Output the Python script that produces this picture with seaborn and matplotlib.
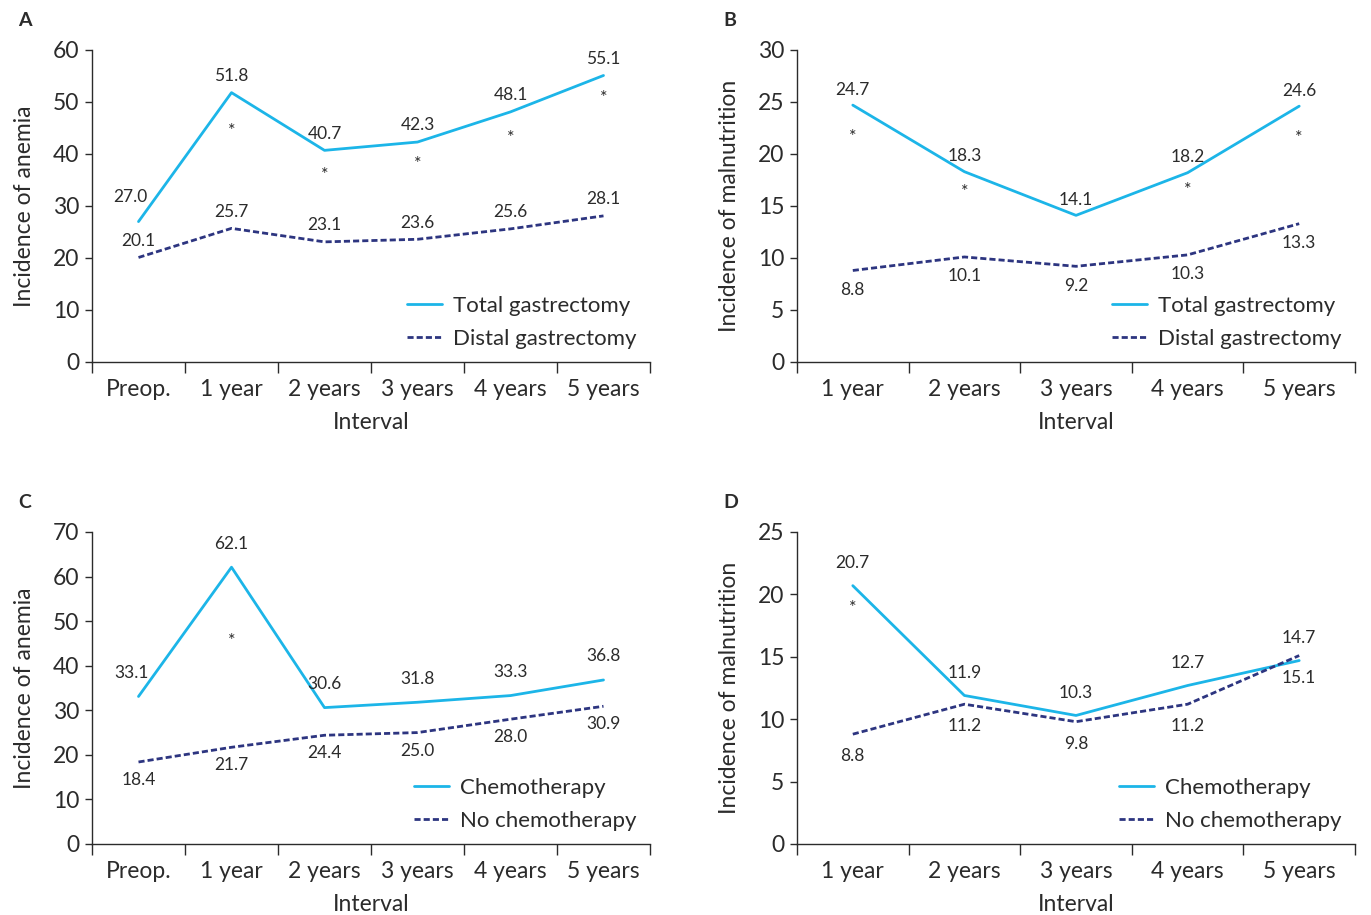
import numpy as np
import pandas as pd
import matplotlib
matplotlib.use("Agg")
import matplotlib.pyplot as plt
import seaborn as sns

# categories
cats_6 = ["Preop.", "1 year", "2 years", "3 years", "4 years", "5 years"]
cats_5 = ["1 year", "2 years", "3 years", "4 years", "5 years"]

# panel A - anemia by surgery type
a_total = [27.0, 51.8, 40.7, 42.3, 48.1, 55.1]
a_distal = [20.1, 25.7, 23.1, 23.6, 25.6, 28.1]
a_star = [None, 44.5, 36.0, 38.0, 43.0, 50.7]

# panel B - malnutrition by surgery type
b_total = [24.7, 18.3, 14.1, 18.2, 24.6]
b_distal = [8.8, 10.1, 9.2, 10.3, 13.3]
b_star = [21.6, 16.3, None, 16.5, 21.5]

# panel C - anemia by chemotherapy
c_chemo = [33.1, 62.1, 30.6, 31.8, 33.3, 36.8]
c_nochemo = [18.4, 21.7, 24.4, 25.0, 28.0, 30.9]
c_star = [None, 45.5, None, None, None, None]

# panel D - malnutrition by chemotherapy
d_chemo = [20.7, 11.9, 10.3, 12.7, 14.7]
d_nochemo = [8.8, 11.2, 9.8, 11.2, 15.1]
d_star = [18.9, None, None, None, None]

sns.set_style("ticks")
plt.rcParams["font.family"] = ["Lato", "DejaVu Sans"]
TXT = "#2b2b2b"
plt.rcParams["text.color"] = TXT
plt.rcParams["axes.labelcolor"] = TXT
plt.rcParams["xtick.color"] = TXT
plt.rcParams["ytick.color"] = TXT
plt.rcParams["axes.edgecolor"] = TXT

CYAN = "#1cb5e8"
NAVY = "#2d3580"

W, H = 1371, 915
fig = plt.figure(figsize=(W / 100, H / 100), dpi=100)


def rect(l, t, r, b):
    return [l / W, 1 - b / H, (r - l) / W, (b - t) / H]


def panel(box, letter, cats, s1, s2, names, ylim, ystep, ylabel, stars, off1, off2,
          first_shift=(0, 0)):
    ax = fig.add_axes(rect(*box))
    n = len(cats)
    pos = np.arange(n)
    df = pd.DataFrame({
        "pos": np.concatenate([pos, pos]),
        "val": s1 + s2,
        "grp": [names[0]] * n + [names[1]] * n,
    })
    sns.lineplot(data=df, x="pos", y="val", hue="grp", style="grp",
                 palette={names[0]: CYAN, names[1]: NAVY},
                 dashes={names[0]: "", names[1]: (2.2, 1.1)},
                 linewidth=2.0, ax=ax)
    # value labels
    for i in range(n):
        dx, dy = first_shift if i == 0 else (0, 0)
        ax.annotate(f"{s1[i]:.1f}", (pos[i], s1[i]), xytext=(dx, off1 + dy),
                    textcoords="offset points", ha="center", va="center", fontsize=12.5)
        ax.annotate(f"{s2[i]:.1f}", (pos[i], s2[i]), xytext=(0, off2),
                    textcoords="offset points", ha="center", va="center", fontsize=12.5)
        if stars[i] is not None:
            ax.text(pos[i], stars[i], "*", ha="center", va="center", fontsize=13)
    ax.set_xlim(-0.5, n - 0.5)
    ax.set_ylim(0, ylim)
    ax.set_yticks(np.arange(0, ylim + 0.1, ystep))
    ax.set_xticks(np.arange(-0.5, n), labels=[""] * (n + 1))
    ax.set_xticks(pos, labels=cats, minor=True)
    ax.tick_params(axis="x", which="major", length=8, width=1, direction="out")
    ax.tick_params(axis="x", which="minor", length=0, pad=12, labelsize=16.5)
    ax.tick_params(axis="y", length=5, width=1, pad=4, labelsize=16.5)
    ax.set_xlabel("Interval", fontsize=16.5, labelpad=9)
    ax.set_ylabel(ylabel, fontsize=16.5, labelpad=13)
    sns.despine(ax=ax)
    for sp in ax.spines.values():
        sp.set_linewidth(1.0)
    sns.move_legend(ax, "lower right", frameon=False, title=None, fontsize=16,
                    handlelength=1.6, handletextpad=0.5, labelspacing=0.58,
                    borderaxespad=0.2, bbox_to_anchor=(1.0, 0.0))
    fig.text((box[0] - 74) / W, 1 - (box[1] - 30) / H, letter, fontsize=14,
             fontweight="bold", ha="left", va="center")
    return ax


panel((92, 50, 650, 362), "A", cats_6, a_total, a_distal,
      ["Total gastrectomy", "Distal gastrectomy"], 60, 10, "Incidence of anemia",
      a_star, 12, 12, first_shift=(-6, 6))
panel((797, 50, 1355, 362), "B", cats_5, b_total, b_distal,
      ["Total gastrectomy", "Distal gastrectomy"], 30, 5, "Incidence of malnutrition",
      b_star, 11, -14)
panel((92, 532, 650, 844), "C", cats_6, c_chemo, c_nochemo,
      ["Chemotherapy", "No chemotherapy"], 70, 10, "Incidence of anemia",
      c_star, 17, -13, first_shift=(-5, 0))
panel((797, 532, 1355, 844), "D", cats_5, d_chemo, d_nochemo,
      ["Chemotherapy", "No chemotherapy"], 25, 5, "Incidence of malnutrition",
      d_star, 16, -16)

fig.savefig("out.png", dpi=100)
